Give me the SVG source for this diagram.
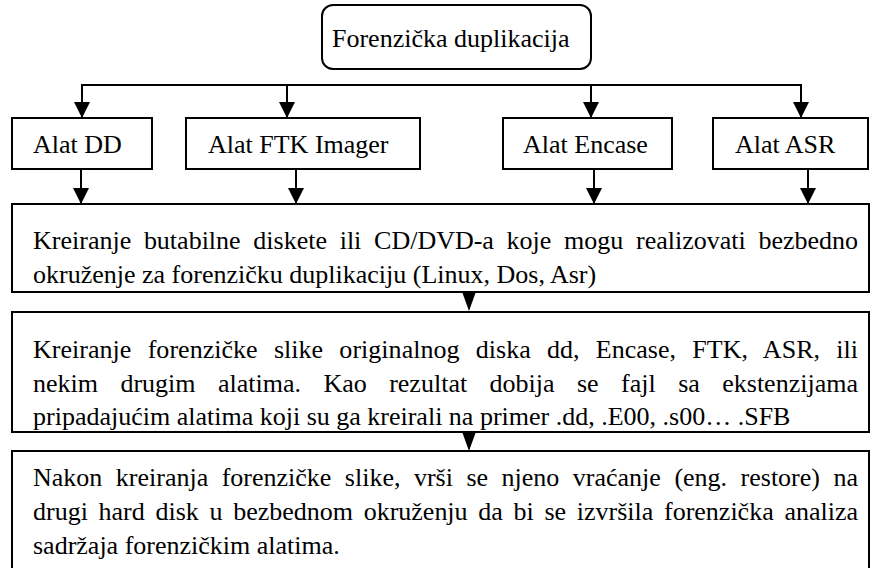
<svg xmlns="http://www.w3.org/2000/svg" width="872" height="568" viewBox="0 0 872 568">
<style>
  .bx{fill:#fff;stroke:#000;stroke-width:2}
  .t{font-family:'Liberation Serif','Times New Roman',serif;font-size:26px;fill:#000}
  .ln{stroke:#000;stroke-width:2;fill:none}
  .hd{fill:#000}
</style>
<defs>
  <marker id="arr" viewBox="0 0 16 16" markerWidth="16" markerHeight="16" refX="16" refY="8" markerUnits="userSpaceOnUse" orient="auto">
    <path d="M0,0 L16,8 L0,16 z" fill="#000"/>
  </marker>
</defs>
<rect width="872" height="568" fill="#fff"/>

<g id="connectors">
  <polyline class="ln" points="82,118 82,85 801,85 801,118" marker-end="url(#arr)"/>
  <line class="ln" x1="82" y1="85" x2="82" y2="118" marker-end="url(#arr)"/>
  <line class="ln" x1="287" y1="85" x2="287" y2="118" marker-end="url(#arr)"/>
  <line class="ln" x1="591" y1="85" x2="591" y2="118" marker-end="url(#arr)"/>
  <line class="ln" x1="81" y1="170" x2="81" y2="204" marker-end="url(#arr)"/>
  <line class="ln" x1="296" y1="170" x2="296" y2="204" marker-end="url(#arr)"/>
  <line class="ln" x1="594" y1="170" x2="594" y2="204" marker-end="url(#arr)"/>
  <line class="ln" x1="808" y1="170" x2="808" y2="204" marker-end="url(#arr)"/>
  <path class="hd" d="M462.5,293 L475.5,293 L469,311 z"/>
  <path class="hd" d="M462.5,433 L475.5,433 L469,451 z"/>
</g>

<g id="n-root">
  <rect class="bx" x="322" y="5" width="269" height="64" rx="11" ry="11"/>
  <text class="t" x="332" y="47" font-family="Liberation Serif, serif">Forenzička duplikacija</text>
</g>

<g id="n-dd">
  <rect class="bx" x="12" y="118" width="140" height="51"/>
  <text class="t" x="33" y="153">Alat DD</text>
</g>
<g id="n-ftk">
  <rect class="bx" x="186" y="118" width="234" height="51"/>
  <text class="t" x="208" y="153">Alat FTK Imager</text>
</g>
<g id="n-encase">
  <rect class="bx" x="503" y="118" width="169" height="51"/>
  <text class="t" x="523" y="153">Alat Encase</text>
</g>
<g id="n-asr">
  <rect class="bx" x="713" y="118" width="155" height="51"/>
  <text class="t" x="735" y="153">Alat ASR</text>
</g>

<g id="n-step1">
  <rect class="bx" x="12" y="204" width="857" height="88"/>
  <text class="t" x="33" y="249" word-spacing="6.2" textLength="825" lengthAdjust="spacing">Kreiranje butabilne diskete ili CD/DVD-a koje mogu realizovati bezbedno</text>
  <text class="t" x="33" y="283">okruženje za forenzičku duplikaciju (Linux, Dos, Asr)</text>
</g>

<g id="n-step2">
  <rect class="bx" x="12" y="312" width="857" height="120"/>
  <text class="t" x="33" y="358" word-spacing="9.7" textLength="825" lengthAdjust="spacing">Kreiranje forenzičke slike originalnog diska dd, Encase, FTK, ASR, ili</text>
  <text class="t" x="33" y="392" word-spacing="15.9" textLength="825" lengthAdjust="spacing">nekim drugim alatima. Kao rezultat dobija se fajl sa ekstenzijama</text>
  <text class="t" x="33" y="425">pripadajućim alatima koji su ga kreirali na primer .dd, .E00, .s00… .SFB</text>
</g>

<g id="n-step3">
  <rect class="bx" x="12" y="451" width="857" height="130"/>
  <text class="t" x="33" y="486" word-spacing="7" textLength="825" lengthAdjust="spacing">Nakon kreiranja forenzičke slike, vrši se njeno vraćanje (eng. restore) na</text>
  <text class="t" x="33" y="520" word-spacing="4.2" textLength="825" lengthAdjust="spacing">drugi hard disk u bezbednom okruženju da bi se izvršila forenzička analiza</text>
  <text class="t" x="33" y="554">sadržaja forenzičkim alatima.</text>
</g>
</svg>
